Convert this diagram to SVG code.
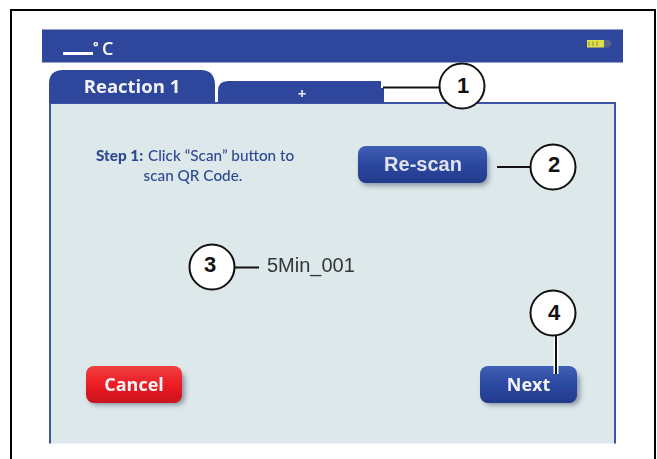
<svg xmlns="http://www.w3.org/2000/svg" width="657" height="459" viewBox="0 0 657 459">
<style>
.myr{font-family:"Open Sans","Noto Sans",sans-serif}
.lat{font-family:"Lato","Noto Sans",sans-serif}
.ari{font-family:"Liberation Sans",Arial,sans-serif}
.btn{fill:#f2f4f6;font-weight:700;text-anchor:middle}
.num{font-family:"Liberation Sans",Arial,sans-serif;font-weight:700;font-size:22px;fill:#111;text-anchor:middle}
.ring{fill:#fff;stroke:#111;stroke-width:2}
.lead{stroke:#111;stroke-width:2;fill:none}
.step{font-size:15.300px;fill:#2f4a94}
</style>
<defs>
<filter id="soft" x="-5%" y="-5%" width="110%" height="110%"><feGaussianBlur stdDeviation="0.5"/></filter>
<filter id="shadow" x="-15%" y="-30%" width="130%" height="170%"><feGaussianBlur stdDeviation="2.5"/></filter>
<linearGradient id="blue" x1="0" y1="0" x2="0" y2="1"><stop offset="0" stop-color="#3f60b4"/><stop offset="0.5" stop-color="#2c48a0"/><stop offset="1" stop-color="#233a8c"/></linearGradient>
<linearGradient id="red" x1="0" y1="0" x2="0" y2="1"><stop offset="0" stop-color="#f0403f"/><stop offset="0.5" stop-color="#ec1c24"/><stop offset="1" stop-color="#c8141c"/></linearGradient>
</defs>
<rect width="657" height="459" fill="#fff"/>
<path d="M11 459V10H655V459" fill="none" stroke="#000" stroke-width="2"/>
<g id="screen" filter="url(#soft)">
<rect x="42" y="29.500" width="581" height="33" fill="#2e479c"/>
<rect x="50" y="103" width="565" height="340.500" fill="#dde8ea"/>
<path d="M50 443.500V103H615V443.500" fill="none" stroke="#3c52a8" stroke-width="2"/>
</g>
<g id="status" filter="url(#soft)">
<rect x="63" y="52" width="30" height="3" fill="#fff"/>
<text class="myr" x="93" y="51" font-size="13" font-weight="700" fill="#fff">°</text>
<text class="myr" x="102" y="55" font-size="18" font-weight="600" fill="#fff">C</text>
<rect x="587" y="40" width="17" height="7.500" fill="#e2e04a"/>
<path d="M589 41.500V46M593 41.500V46M597 41.500V46" stroke="#7d8a3c" stroke-width="1"/>
<path d="M604 40h5l3 3.700-3 3.800h-5z" fill="#55658f"/>
</g>
<g id="tab-reaction" filter="url(#soft)">
<path d="M49 103V84Q49 70 63 70H201Q214 70 215 84V103Z" fill="#2e479c"/>
<text class="myr" x="132" y="93" font-size="18.500" font-weight="700" fill="#f0f2f6" text-anchor="middle">Reaction 1</text>
</g>
<g id="tab-add" filter="url(#soft)">
<path d="M218 103V91Q218 81 228 81H381V88H384V103Z" fill="#2e479c"/>
<text class="myr" x="302" y="99" font-size="15" font-weight="700" fill="#e8ecf4" text-anchor="middle">+</text>
</g>
<g id="instruction" filter="url(#soft)">
<text class="lat step" x="96" y="161" font-weight="900">Step 1:</text>
<text class="lat step" x="148" y="161" font-weight="500">Click “Scan” button to</text>
<text class="lat step" x="193" y="181" font-weight="500" text-anchor="middle">scan QR Code.</text>
</g>
<g id="btn-rescan">
<rect x="360" y="152" width="129" height="34" rx="8" fill="#33415f" opacity="0.45" filter="url(#shadow)"/>
<rect x="358" y="146" width="129" height="37" rx="8" fill="url(#blue)" filter="url(#soft)"/>
<text class="ari btn" x="423" y="171" font-size="20" fill-opacity="0.9" filter="url(#soft)">Re-scan</text>
</g>
<g id="btn-cancel">
<rect x="89" y="372" width="96" height="33" rx="8" fill="#33415f" opacity="0.5" filter="url(#shadow)"/>
<rect x="86" y="366" width="96" height="37" rx="8" fill="url(#red)" filter="url(#soft)"/>
<text class="myr btn" x="134" y="391" font-size="18" filter="url(#soft)">Cancel</text>
</g>
<g id="btn-next">
<rect x="483" y="372" width="97" height="33" rx="8" fill="#33415f" opacity="0.5" filter="url(#shadow)"/>
<rect x="480" y="366" width="97" height="37" rx="8" fill="url(#blue)" filter="url(#soft)"/>
<text class="myr btn" x="528.500" y="391" font-size="18" filter="url(#soft)">Next</text>
</g>
<text id="filename" class="ari" x="267" y="271.500" font-size="20" fill="#33363a" filter="url(#soft)">5Min_001</text>
<g id="connectors">
<path class="lead" d="M383 87.500H441"/>
<path d="M497 167H531" class="lead"/>
<path d="M235 267.500H259" class="lead"/>
<path d="M556 335V374" stroke="#fff" stroke-width="5" fill="none"/>
<path d="M556 335V374" class="lead"/>
</g>
<g id="callout-1"><circle class="ring" cx="462" cy="86" r="22.500"/><text class="num" x="463" y="93">1</text></g>
<g id="callout-2"><circle class="ring" cx="553" cy="167" r="22.500"/><text class="num" x="554" y="172">2</text></g>
<g id="callout-3"><circle class="ring" cx="212" cy="267" r="22.500"/><text class="num" x="210" y="272">3</text></g>
<g id="callout-4"><circle class="ring" cx="553" cy="313" r="22.500"/><text class="num" x="554" y="320">4</text></g>
</svg>
